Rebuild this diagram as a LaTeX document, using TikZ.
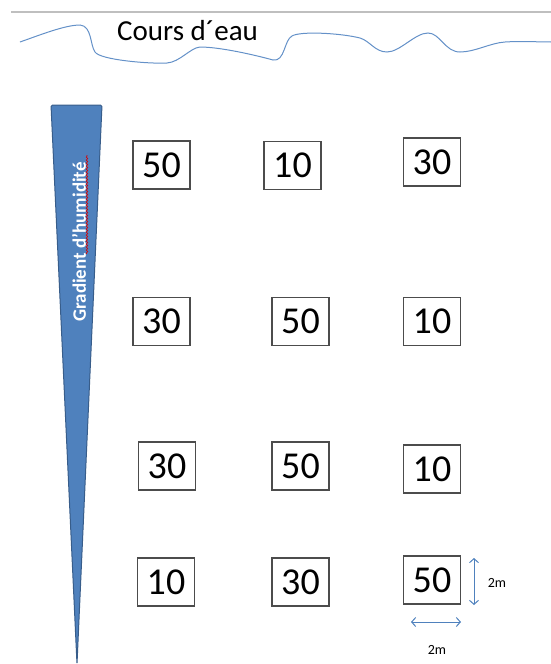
\documentclass[tikz,border=0pt]{standalone}
\usepackage{fontspec}
\setmainfont{Carlito}
\usetikzlibrary{arrows.meta,decorations.pathmorphing}
\definecolor{offblue}{RGB}{79,129,189}
\definecolor{offdark}{RGB}{56,93,138}
\definecolor{waveblue}{RGB}{100,145,200}
\tikzset{
  plot/.style={draw=black!70, line width=1.1pt, minimum width=57pt, minimum height=48pt, inner sep=0pt, font=\fontsize{38}{38}\selectfont},
  dimarrow/.style={draw=offblue, line width=1pt, {Straight Barb[length=4pt,width=9pt]}-{Straight Barb[length=4pt,width=9pt]}},
  dimlabel/.style={font=\fontsize{14}{14}\selectfont, inner sep=0pt}
}
\begin{document}
\begin{tikzpicture}[x=1pt,y=-1pt]
\useasboundingbox (0,0) rectangle (551,664);
% top gray line
\draw[black!25, line width=1.5pt] (11,12) -- (551,12);
% wave
\draw[waveblue, line width=1pt] (20,42) .. controls (40,35) and (65,25) .. (80,25)
  .. controls (92,26) and (90,45) .. (95,52)
  .. controls (100,60) and (150,64) .. (167,63)
  .. controls (180,62) and (190,48) .. (200,47)
  .. controls (220,47) and (255,55) .. (273,60)
  .. controls (285,62) and (284,40) .. (292,36)
  .. controls (300,31) and (340,33) .. (360,38)
  .. controls (370,41) and (375,52) .. (387,52)
  .. controls (400,52) and (415,33) .. (428,33)
  .. controls (440,33) and (445,52) .. (460,52)
  .. controls (475,52) and (490,43) .. (505,42)
  .. controls (520,41) and (540,42) .. (551,42);
\node[font=\fontsize{29}{29}\selectfont, anchor=base west, inner sep=0pt] (title) at (117,40) {Cours d´eau};
% gradient triangle
\draw[offdark, fill=offblue, line width=1pt, rounded corners=1.5pt] (51,105) -- (102,105) -- (77,664) -- cycle;
\node[rotate=90, text=white, font=\fontsize{19}{19}\selectfont\bfseries, anchor=center, inner sep=0pt] (grad) at (79,242) {Gradient d’humidité};
\draw[red!85!black, line width=0.6pt, decorate, decoration={snake, amplitude=0.8pt, segment length=3pt}] (87,254) -- (87,155);
% plots
\node[plot] (a1) at (161.5,165) {50};
\node[plot] (a2) at (292.5,165.5) {10};
\node[plot] (a3) at (432,162) {30};
\node[plot] (b1) at (161.5,321.5) {30};
\node[plot] (b2) at (300.5,321.5) {50};
\node[plot] (b3) at (432,321.5) {10};
\node[plot] (c1) at (167,466) {30};
\node[plot] (c2) at (300.5,466) {50};
\node[plot] (c3) at (432,469) {10};
\node[plot] (d1) at (166,582) {10};
\node[plot] (d2) at (300.5,582) {30};
\node[plot] (d3) at (432,580) {50};
% dimension arrows
\coordinate (v1) at (474,558);
\coordinate (v2) at (474,605);
\coordinate (h1) at (411,622);
\coordinate (h2) at (461,622);
\draw[dimarrow] (v1) -- (v2);
\draw[dimarrow] (h1) -- (h2);
\node[dimlabel] (lv) at (497,583) {2m};
\node[dimlabel] (lh) at (437,650) {2m};
\end{tikzpicture}
\end{document}
